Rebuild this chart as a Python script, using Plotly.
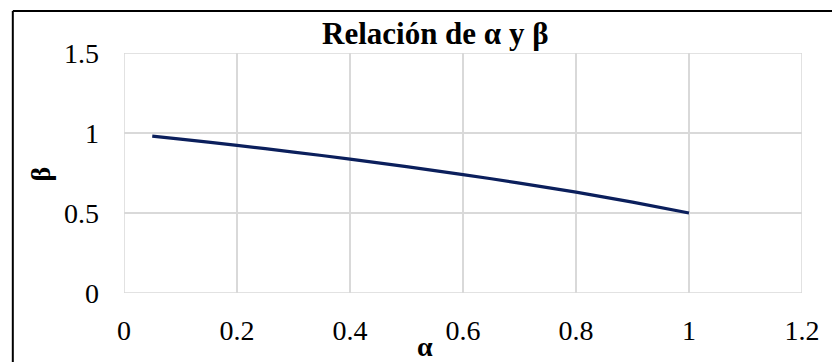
import plotly.graph_objects as go

# Relación entre α y β
alpha = [0.05, 0.1, 0.2, 0.3, 0.4, 0.5, 0.6, 0.7, 0.8, 0.9, 1.0]
beta = [0.981, 0.962, 0.923, 0.881, 0.837, 0.790, 0.740, 0.687, 0.630, 0.568, 0.500]

x_ticks = [0, 0.2, 0.4, 0.6, 0.8, 1, 1.2]
x_tick_text = ["0", "0.2", "0.4", "0.6", "0.8", "1", "1.2"]
y_ticks = [0, 0.5, 1, 1.5]
y_tick_text = ["0", "0.5", "1", "1.5"]

FONT = "Liberation Serif, Times New Roman, serif"
W, H = 832, 362
ML, MR, MT, MB = 123.5, 22.5, 53, 69
PW, PH = W - ML - MR, H - MT - MB


def px_x(px):
    return (px - ML) / PW


def px_y(py):
    return (H - MB - py) / PH


fig = go.Figure()
fig.add_trace(go.Scatter(
    x=alpha, y=beta, mode="lines",
    line=dict(color="#0b1f5c", width=3.2, shape="spline", smoothing=0.8),
    hoverinfo="x+y", showlegend=False,
))

axis_common = dict(
    showgrid=True, gridcolor="#d9d9d9", gridwidth=1.5,
    zeroline=False, showline=False, ticks="",
    tickfont=dict(family=FONT, size=28, color="#000000"),
    fixedrange=True,
)

fig.update_xaxes(range=[0, 1.2], tickvals=x_ticks, ticktext=x_tick_text,
                 ticklabelstandoff=18, **axis_common)
fig.update_yaxes(range=[0, 1.5], tickvals=y_ticks, ticktext=y_tick_text,
                 ticklabelstandoff=24, **axis_common)

# vertical gridlines at x=0 and x=1.2 are drawn as part of the frame
fig.add_shape(type="rect", xref="x", yref="y", x0=0, x1=1.2, y0=0, y1=1.5,
              line=dict(color="#d9d9d9", width=1.5), layer="below")

# chart border (left and top edges)
fig.add_shape(type="line", xref="paper", yref="paper",
              x0=px_x(11), x1=px_x(W + 20), y0=px_y(11), y1=px_y(11),
              line=dict(color="#000000", width=2))
fig.add_shape(type="line", xref="paper", yref="paper",
              x0=px_x(11), x1=px_x(11), y0=px_y(11), y1=px_y(H + 20),
              line=dict(color="#000000", width=2))

fig.add_annotation(text="<b>Relación de α y β</b>", xref="paper", yref="paper",
                   x=px_x(439), y=px_y(33), xanchor="center", yanchor="middle",
                   showarrow=False, font=dict(family=FONT, size=31, color="#000000"))
fig.add_annotation(text="<b>α</b>", xref="paper", yref="paper",
                   x=px_x(428), y=px_y(346), xanchor="center", yanchor="middle",
                   showarrow=False, font=dict(family=FONT, size=28, color="#000000"))
fig.add_annotation(text="<b>β</b>", xref="paper", yref="paper",
                   x=px_x(39), y=px_y(174), xanchor="center", yanchor="middle",
                   textangle=-90, showarrow=False,
                   font=dict(family=FONT, size=28, color="#000000"))

fig.update_layout(
    width=W, height=H, autosize=False,
    margin=dict(l=ML, r=MR, t=MT, b=MB, pad=0),
    paper_bgcolor="#ffffff", plot_bgcolor="#ffffff",
)

fig.write_html("out.html", config={"displayModeBar": False})
